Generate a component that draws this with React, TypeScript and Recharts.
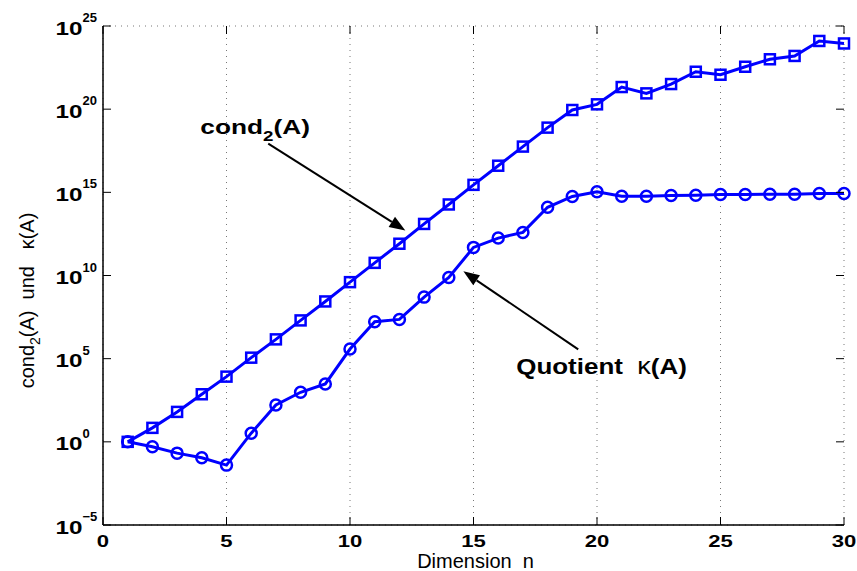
import {
  LineChart,
  Line,
  XAxis,
  YAxis,
  CartesianGrid,
  ReferenceLine,
  ReferenceDot,
} from 'recharts'

// Werte als Zehnerexponenten (log10)
const dims = [1, 2, 3, 4, 5, 6, 7, 8, 9, 10, 11, 12, 13, 14, 15, 16, 17, 18, 19, 20, 21, 22, 23, 24, 25, 26, 27, 28, 29, 30]
const condExp = [
  0, 0.84, 1.8, 2.86, 3.92, 5.06, 6.16, 7.3, 8.44, 9.6, 10.76, 11.91, 13.1, 14.27, 15.45, 16.6, 17.75, 18.89,
  19.95, 20.29, 21.33, 20.95, 21.51, 22.25, 22.07, 22.55, 23.0, 23.2, 24.1, 23.95,
]
const kappaExp = [
  0, -0.3, -0.68, -0.96, -1.4, 0.52, 2.22, 2.98, 3.48, 5.58, 7.22, 7.36, 8.7, 9.88, 11.69, 12.25, 12.59, 14.1,
  14.75, 15.04, 14.76, 14.77, 14.81, 14.83, 14.87, 14.87, 14.89, 14.89, 14.93, 14.93,
]
const xTicks = [0, 5, 10, 15, 20, 25, 30]
const yTicks = [-5, 0, 5, 10, 15, 20, 25]

// Annotationen (Datenkoordinaten)
const condLabel = { x: 3.94, y: 18.53 }
const condArrow = { from: { x: 6.69, y: 17.93 }, to: { x: 12.24, y: 12.71 } }
const kappaLabel = { x: 16.73, y: 4.06 }
const kappaArrow = { from: { x: 19.24, y: 5.56 }, to: { x: 14.59, y: 10.25 } }

const data = dims.map((n, i) => ({ n, cond: condExp[i], kappa: kappaExp[i] }))

const FONT = '"Liberation Sans", Arial, Helvetica, sans-serif'
const BLUE = '#0000ff'
const X_MIN = 0
const X_MAX = 30
const Y_MIN = -5
const Y_MAX = 25

function SquareDot({ cx, cy }: { cx?: number; cy?: number }) {
  if (cx == null || cy == null) return null
  return <rect x={cx - 5} y={cy - 5} width={10} height={10} fill="none" stroke={BLUE} strokeWidth={2.5} />
}

function CircleDot({ cx, cy }: { cx?: number; cy?: number }) {
  if (cx == null || cy == null) return null
  return <circle cx={cx} cy={cy} r={5.5} fill="none" stroke={BLUE} strokeWidth={2.5} />
}

// y-Achsenbeschriftung 10^k plus Tick nach innen
function LeftTickMark({ cx, cy, exp }: any) {
  const ax = cx - 20.5
  return (
    <g>
      <line x1={cx} y1={cy} x2={cx + 8} y2={cy} stroke="#000" strokeWidth={1} />
      <text
        x={ax}
        y={cy + 8.5}
        textAnchor="end"
        fontFamily={FONT}
        fontWeight="bold"
        fontSize={19}
        fill="#000"
        textLength={27}
        lengthAdjust="spacingAndGlyphs"
      >
        10
      </text>
      <text x={ax} y={cy - 4} textAnchor="start" fontFamily={FONT} fontWeight="bold" fontSize={13} fill="#000">
        {exp < 0 ? '\u2212' + Math.abs(exp) : exp}
      </text>
    </g>
  )
}

function RightTickMark({ cx, cy }: any) {
  return <line x1={cx} y1={cy} x2={cx - 8} y2={cy} stroke="#000" strokeWidth={1} />
}

function BottomTickMark({ cx, cy }: any) {
  return <line x1={cx} y1={cy} x2={cx} y2={cy - 8} stroke="#000" strokeWidth={1} />
}

function TopTickMark({ cx, cy }: any) {
  return <line x1={cx} y1={cy} x2={cx} y2={cy + 8} stroke="#000" strokeWidth={1} />
}

function BottomTick({ x, y, payload }: any) {
  return (
    <g transform={`translate(${x} ${y + 22}) scale(1.3 1)`}>
      <text x={0} y={0} textAnchor="middle" fontFamily={FONT} fontWeight="bold" fontSize={17} fill="#000">
        {payload.value}
      </text>
    </g>
  )
}

function XLabel({ viewBox }: any) {
  const { x, y, width } = viewBox
  return (
    <text x={x + width / 2 + 2} y={y + 43} textAnchor="middle" fontFamily={FONT} fontSize={20} fill="#000">
      {'Dimension\u00a0\u00a0n'}
    </text>
  )
}

function YLabel({ viewBox }: any) {
  const { y, height } = viewBox
  const cx = 34
  const cy = y + height / 2 + 25
  return (
    <text
      x={cx}
      y={cy}
      transform={`rotate(-90 ${cx} ${cy})`}
      textAnchor="middle"
      fontFamily={FONT}
      fontSize={20}
      fill="#000"
    >
      cond
      <tspan fontSize={14} dy={6}>2</tspan>
      <tspan dy={-6}>{'(A)\u00a0\u00a0und\u00a0\u00a0\u00a0κ(A)'}</tspan>
    </text>
  )
}

function Arrow(props: any) {
  const { x1, y1, x2, y2 } = props
  const ang = Math.atan2(y2 - y1, x2 - x1)
  const len = 16
  const w = 6
  const bx = x2 - len * Math.cos(ang)
  const by = y2 - len * Math.sin(ang)
  const px = -Math.sin(ang) * w
  const py = Math.cos(ang) * w
  return (
    <g>
      <line x1={x1} y1={y1} x2={bx} y2={by} stroke="#000" strokeWidth={2} />
      <polygon points={`${x2},${y2} ${bx + px},${by + py} ${bx - px},${by - py}`} fill="#000" />
    </g>
  )
}

function CondText({ cx, cy }: any) {
  return (
    <g transform={`translate(${cx} ${cy}) scale(1.25 1)`}>
      <text x={0} y={0} fontFamily={FONT} fontWeight="bold" fontSize={21} fill="#000">
        cond
        <tspan fontSize={15} dy={7}>2</tspan>
        <tspan dy={-7}>(A)</tspan>
      </text>
    </g>
  )
}

function KappaText({ cx, cy }: any) {
  return (
    <g transform={`translate(${cx} ${cy}) scale(1.18 1)`}>
      <text x={0} y={0} fontFamily={FONT} fontWeight="bold" fontSize={22} fill="#000">
        {'Quotient\u00a0\u00a0'}
        <tspan fontWeight="normal" fontSize={23}>κ</tspan>
        (A)
      </text>
    </g>
  )
}

export default function App() {
  return (
    <div style={{ position: 'fixed', top: 0, left: 0, width: 857, height: 571, background: '#fff' }}>
      <LineChart width={857} height={571} data={data} margin={{ top: 26, right: 13, bottom: 16, left: 43 }}>
        <CartesianGrid stroke="#777" strokeDasharray="1 5" />
        <XAxis
          dataKey="n"
          type="number"
          domain={[X_MIN, X_MAX]}
          ticks={xTicks}
          height={30}
          tickSize={0}
          tickMargin={0}
          tick={<BottomTick />}
          axisLine={{ stroke: '#000', strokeWidth: 1.5 }}
          tickLine={false}
          label={<XLabel />}
        />
        <XAxis
          xAxisId="top"
          dataKey="n"
          type="number"
          orientation="top"
          domain={[X_MIN, X_MAX]}
          ticks={xTicks}
          height={0}
          tick={false}
          axisLine={{ stroke: '#000', strokeWidth: 1.5 }}
          tickLine={false}
        />
        <YAxis
          type="number"
          domain={[Y_MIN, Y_MAX]}
          ticks={yTicks}
          width={60}
          tick={false}
          axisLine={{ stroke: '#000', strokeWidth: 1.5 }}
          tickLine={false}
          label={<YLabel />}
        />
        <YAxis
          yAxisId="r"
          orientation="right"
          type="number"
          domain={[Y_MIN, Y_MAX]}
          ticks={yTicks}
          width={0}
          tick={false}
          axisLine={{ stroke: '#000', strokeWidth: 1.5 }}
          tickLine={false}
        />
        <Line
          dataKey="cond"
          stroke={BLUE}
          strokeWidth={3}
          dot={<SquareDot />}
          activeDot={false}
          isAnimationActive={false}
        />
        <Line
          dataKey="kappa"
          stroke={BLUE}
          strokeWidth={3}
          dot={<CircleDot />}
          activeDot={false}
          isAnimationActive={false}
        />
        {yTicks.map((t) => (
          <ReferenceDot
            key={`l${t}`}
            x={X_MIN}
            y={t}
            r={0}
            shape={<LeftTickMark exp={t} />}
            ifOverflow="visible"
          />
        ))}
        {yTicks.map((t) => (
          <ReferenceDot key={`r${t}`} x={X_MAX} y={t} r={0} shape={<RightTickMark />} ifOverflow="visible" />
        ))}
        {xTicks.map((t) => (
          <ReferenceDot key={`b${t}`} x={t} y={Y_MIN} r={0} shape={<BottomTickMark />} ifOverflow="visible" />
        ))}
        {xTicks.map((t) => (
          <ReferenceDot key={`t${t}`} x={t} y={Y_MAX} r={0} shape={<TopTickMark />} ifOverflow="visible" />
        ))}
        <ReferenceLine
          segment={[condArrow.from, condArrow.to]}
          shape={<Arrow />}
          ifOverflow="visible"
        />
        <ReferenceLine
          segment={[kappaArrow.from, kappaArrow.to]}
          shape={<Arrow />}
          ifOverflow="visible"
        />
        <ReferenceDot x={condLabel.x} y={condLabel.y} r={0} shape={<CondText />} ifOverflow="visible" />
        <ReferenceDot x={kappaLabel.x} y={kappaLabel.y} r={0} shape={<KappaText />} ifOverflow="visible" />
      </LineChart>
    </div>
  )
}
